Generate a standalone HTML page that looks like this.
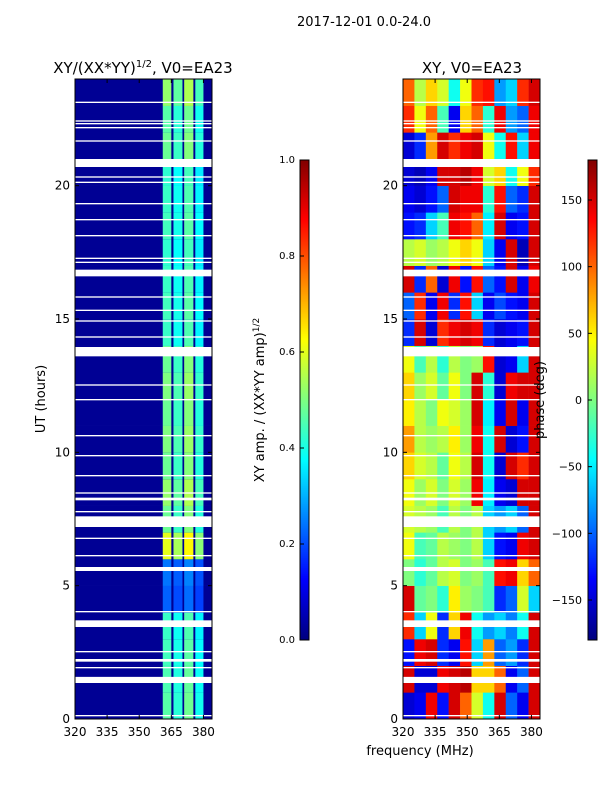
<!DOCTYPE html>
<html><head><meta charset="utf-8">
<style>
body{margin:0;background:#fff;}
svg text{font-family:"DejaVu Sans","Liberation Sans",sans-serif;fill:#000;}
</style></head>
<body>
<svg id="fig" width="600" height="800" viewBox="0 0 600 800" xmlns="http://www.w3.org/2000/svg">
<rect width="600" height="800" fill="#fff"/>
<text x="364" y="26" font-size="13" text-anchor="middle">2017-12-01 0.0-24.0</text>
<text x="143" y="73" font-size="15" text-anchor="middle">XY/(XX*YY)<tspan font-size="10" dy="-6">1/2</tspan><tspan dy="6">, V0=EA23</tspan></text>
<text x="472" y="73" font-size="15" text-anchor="middle">XY, V0=EA23</text>
<g id="left"></g>
<g id="right"></g>
<g id="axes"></g>
<text transform="translate(45,399) rotate(-90)" font-size="13" text-anchor="middle">UT (hours)</text>
<text x="420" y="755" font-size="13" text-anchor="middle">frequency (MHz)</text>
<text transform="translate(264,400) rotate(-90)" font-size="13" text-anchor="middle">XY amp. / (XX*YY amp)<tspan font-size="9" dy="-5">1/2</tspan></text>
<text transform="translate(544,400) rotate(-90)" font-size="13" text-anchor="middle">phase (deg)</text>
</svg>
<script>
// ---- data ----
const hours = [0,1,2,3,4,5,6,7,8,9,10,11,12,13,14,15,16,17,18,19,20,21,22,23];
const rowAmp = [0.46,0.45,0.44,0.43,0.22,0.24,0.6,0.48,0.52,0.48,0.5,0.48,0.5,0.48,0.43,0.44,0.43,0.42,0.44,0.43,0.42,0.48,0.46,0.52];
const bandStart = [361,366,371,376.2];
const bandEnd = [365,370.2,375.3,380];
const bandGain = [1.0,0.9,1.05,0.85];
const bgAmp = 0.02;
const phaseChanStart = [320,325.33,330.67,336,341.33,346.67,352,357.33,362.67,368,373.33,378.67];
const phaseChanWidth = 5.33;
const phase = [
[-150,-140,140,-130,150,100,30,-40,150,-100,-140,150],
[150,-150,-150,140,150,160,60,60,100,-140,-100,150],
[-130,140,150,-120,-140,130,-60,80,-100,-80,-120,150],
[120,-60,40,-120,60,140,-40,-80,-60,-90,-40,150],
[150,-10,0,-30,50,10,0,-20,-120,-100,30,-60],
[0,-30,-10,20,30,0,10,-20,130,140,60,100],
[40,-20,-10,20,10,0,20,-60,-130,-140,140,150],
[30,20,10,-20,20,0,20,-60,-80,-60,-100,150],
[40,10,30,0,30,10,140,-50,-140,-150,150,150],
[60,30,20,-10,40,20,150,-40,-150,150,120,150],
[80,20,10,20,50,10,140,-40,150,-150,-130,150],
[50,20,0,40,30,10,150,-50,-140,150,-140,150],
[60,10,30,-10,40,0,150,-30,-150,140,150,150],
[40,-20,20,-30,20,0,10,130,-150,-140,-60,150],
[-120,150,-150,120,140,150,140,-120,-150,-140,-130,150],
[-100,120,-140,140,-120,130,-60,-140,-110,-130,-140,150],
[150,-120,100,-150,140,-130,130,-100,-130,150,-140,140],
[20,30,10,20,40,60,40,-60,-140,150,-160,150],
[-130,-120,-60,-20,140,130,100,-50,150,-140,-130,150],
[-140,-150,-130,-100,150,140,140,-30,130,-100,-120,150],
[-150,-160,-140,150,150,160,140,30,60,-40,40,120],
[-150,-120,80,150,120,140,150,40,-40,130,-60,140],
[120,40,100,-20,-140,60,100,-30,140,-80,-100,140],
[100,20,60,30,-40,40,120,130,-80,-60,120,150]];
const gapStart = [0.1,1.35,1.9,2.15,2.5,3.45,4.0,5.55,6.1,6.75,7.2,7.75,8.2,8.45,9.1,9.85,10.6,11.95,12.5,13.6,14.3,14.9,15.3,15.8,16.6,17.1,17.25,18.1,18.7,19.3,20.1,20.3,20.7,21.65,22.15,22.3,22.4,23.1];
const gapEnd   = [0.15,1.58,1.95,2.25,2.55,3.7,4.05,5.7,6.15,6.8,7.6,7.8,8.3,8.5,9.15,9.9,10.65,12.0,12.55,13.95,14.35,14.95,15.35,15.85,16.85,17.15,17.3,18.15,18.75,19.35,20.15,20.35,21.0,21.7,22.2,22.35,22.45,23.15];
const yTicks = [0,5,10,15,20];
const xTicks = [320,335,350,365,380];
const ampTicks = [0.0,0.2,0.4,0.6,0.8,1.0];
const phaseTicks = [-150,-100,-50,0,50,100,150];

// ---- scales ----
const Y0=719, Y1=79;
const yS = h => Y0 - (h/24)*(Y0-Y1);
const xL = f => 75 + (f-320)*(137/64);
const xR = f => 403 + (f-320)*(137/64);
const CB0=640, CB1=160;
const ampS = v => CB0 - v*(CB0-CB1);
const phS = v => CB0 - (v+180)/360*(CB0-CB1);
function jet(v){v=Math.max(0,Math.min(1,v));
 const c=x=>Math.round(255*Math.max(0,Math.min(1,x)));
 return `rgb(${c(1.5-Math.abs(4*v-3))},${c(1.5-Math.abs(4*v-2))},${c(1.5-Math.abs(4*v-1))})`;}
const NS="http://www.w3.org/2000/svg";
function mk(tag,attrs,parent){const e=document.createElementNS(NS,tag);for(const k in attrs)e.setAttribute(k,attrs[k]);parent.appendChild(e);return e;}

const L=document.getElementById('left'), R=document.getElementById('right'), A=document.getElementById('axes');
hours.forEach((h,j)=>{
 const y=yS(h+1), ht=yS(h)-yS(h+1);
 const bg=mk('rect',{x:xL(320),y:y,width:xL(384)-xL(320),height:ht+0.3,fill:jet(bgAmp)},L);
 
 
 bandStart.forEach((s,k)=>{
  const r=mk('rect',{x:xL(s),y:y,width:xL(bandEnd[k])-xL(s),height:ht+0.3,fill:jet(rowAmp[j]*bandGain[k])},L);
  
  
 });
 phase[j].forEach((p,k)=>{
  const r=mk('rect',{x:xR(phaseChanStart[k]),y:y,width:xR(phaseChanStart[k]+phaseChanWidth)-xR(phaseChanStart[k])+0.3,height:ht+0.3,fill:jet((p+180)/360)},R);
  
  
 });
});
gapStart.forEach((g,i)=>{
 [[xL,L],[xR,R]].forEach(([xs,par])=>{
  const r=mk('rect',{x:xs(320),y:yS(gapEnd[i]),width:xs(384)-xs(320),height:yS(g)-yS(gapEnd[i]),fill:'#fff'},par);
  
  
 });
});
[[75,xL],[403,xR]].forEach(([x0,xs])=>{
 const f=mk('rect',{x:x0,y:Y1,width:137,height:Y0-Y1,fill:'none',stroke:'#000','stroke-width':1},A);
 
 
 yTicks.forEach(t=>{
  mk('line',{x1:x0,x2:x0+4,y1:yS(t),y2:yS(t),stroke:'#000'},A);
  mk('line',{x1:x0+137,x2:x0+133,y1:yS(t),y2:yS(t),stroke:'#000'},A);
  const tx=mk('text',{x:x0-5,y:yS(t)+4,'font-size':12,'text-anchor':'end'},A);
  tx.textContent=t;
  
  
 });
 xTicks.forEach(t=>{
  mk('line',{x1:xs(t),x2:xs(t),y1:Y0,y2:Y0-4,stroke:'#000'},A);
  mk('line',{x1:xs(t),x2:xs(t),y1:Y1,y2:Y1+4,stroke:'#000'},A);
  const tx=mk('text',{x:xs(t),y:Y0+17,'font-size':12,'text-anchor':'middle'},A);
  tx.textContent=t;
  
  
 });
});
function cbar(x0,name){
 for(let i=0;i<240;i++){
  const v=i/240;
  mk('rect',{x:x0,y:CB0-(i+1)*2,width:9,height:2.3,fill:jet(v)},A);
 }
 const f=mk('rect',{x:x0,y:CB1,width:9,height:CB0-CB1,fill:'none',stroke:'#000'},A);
 
 
}
cbar(300,'amp-colorbar');
cbar(588,'phase-colorbar');
ampTicks.forEach(t=>{
 mk('line',{x1:300,x2:304,y1:ampS(t),y2:ampS(t),stroke:'#000'},A);
 const tx=mk('text',{x:295,y:ampS(t)+3,'font-size':10,'text-anchor':'end'},A);
 tx.textContent=t.toFixed(1);
 
 
});
phaseTicks.forEach(t=>{
 mk('line',{x1:588,x2:592,y1:phS(t),y2:phS(t),stroke:'#000'},A);
 const tx=mk('text',{x:582,y:phS(t)+4,'font-size':11,'text-anchor':'end'},A);
 tx.textContent=t<0?'\u2212'+(-t):t;
 
 
});
</script>
</body></html>
